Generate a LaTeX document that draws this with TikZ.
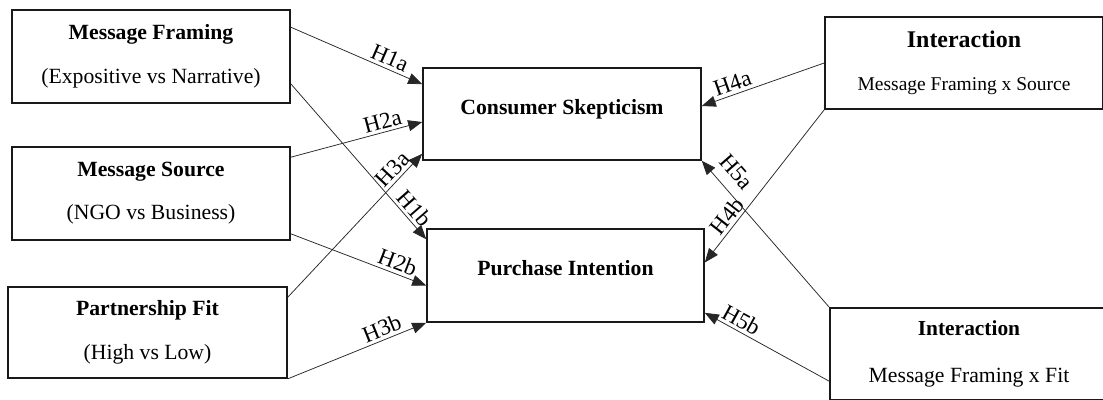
\documentclass[tikz,border=0pt]{standalone}
\usepackage{fontspec}
\setmainfont{Liberation Serif}
\usepackage{tikz}
\usetikzlibrary{arrows.meta, positioning, calc}
\usepackage{xcolor}

\tikzset{
  factor/.style={draw=black!90, line width=1.6pt, minimum width=278pt,
                 minimum height=93pt, align=center, inner sep=0pt},
  outcome/.style={factor, font=\fontsize{21.7}{26}\selectfont\bfseries,
                  text height=12pt, text depth=12pt},
  hpath/.style={-{Triangle[length=14pt,width=11pt]}, line width=0.75pt,
                draw=black!85},
  hlabel/.style={sloped, above, inner sep=3pt, pos=#1,
                 font=\fontsize{23}{27}\selectfont}
}

\begin{document}
\begin{tikzpicture}[x=1pt, y=-1pt, font=\fontsize{21.7}{26}\selectfont]
    \useasboundingbox (0,0) rectangle (1103,399);

    % independent variables
    \node[factor] (mf) at (151,56.5)
      {\textbf{Message Framing}\\[18pt](Expositive vs Narrative)};
    \node[factor] (ms) at (151,193.5)
      {\textbf{Message Source}\\[17pt](NGO vs Business)};
    \node[factor, minimum width=279pt, minimum height=91pt] (pf) at (147.5,332.5)
      {\textbf{Partnership Fit}\\[18pt](High vs Low)};

    % dependent variables
    \node[outcome, minimum height=92pt] (cs) at (562,114) {Consumer Skepticism};
    \node[outcome, minimum width=277pt] (pi) at (565.5,275.5) {Purchase Intention};

    % interactions
    \node[factor, minimum height=92pt] (int1) at (964,63)
      {{\fontsize{23.9}{28}\selectfont\bfseries Interaction}\\[17pt]%
       {\fontsize{19.5}{23}\selectfont Message Framing x Source}};
    \node[factor, minimum height=92pt] (int2) at (969,354)
      {{\fontsize{21.4}{26}\selectfont\bfseries Interaction}\\[21pt]%
       Message Framing x Fit};

    % hypotheses
    \draw[hpath] ([yshift=-18pt]mf.north east) -- node[hlabel=0.72] {H1a} ([yshift=-17pt]cs.north west);
    \draw[hpath] ([yshift=20pt]mf.south east) -- node[hlabel=0.85] {H1b} ([yshift=-11pt]pi.north west);
    \draw[hpath] ([yshift=-11pt]ms.north east) -- node[hlabel=0.72] {H2a} ([yshift=-8pt]cs.west);
    \draw[hpath] ([yshift=7pt]ms.south east) -- node[hlabel=0.76] {H2b} ([yshift=-10pt]pi.west);
    \draw[hpath] ([yshift=-11pt]pf.north east) -- node[hlabel=0.84] {H3a} ([yshift=7pt]cs.south west);
    \draw[hpath] (pf.south east) -- node[hlabel=0.71] {H3b} (pi.south west);
    \draw[hpath] (int1.west) -- node[hlabel=0.72] {H4a} ([yshift=8pt]cs.east);
    \draw[hpath] (int1.south west) -- node[hlabel=0.74] {H4b} ([yshift=13pt]pi.east);
    \draw[hpath] (int2.north west) -- node[hlabel=0.84, above=8pt] {H5a} (cs.south east);
    \draw[hpath] ([yshift=-74pt]int2.north west) -- node[hlabel=0.75] {H5b} ([yshift=10pt]pi.south east);
  \end{tikzpicture}
\end{document}
